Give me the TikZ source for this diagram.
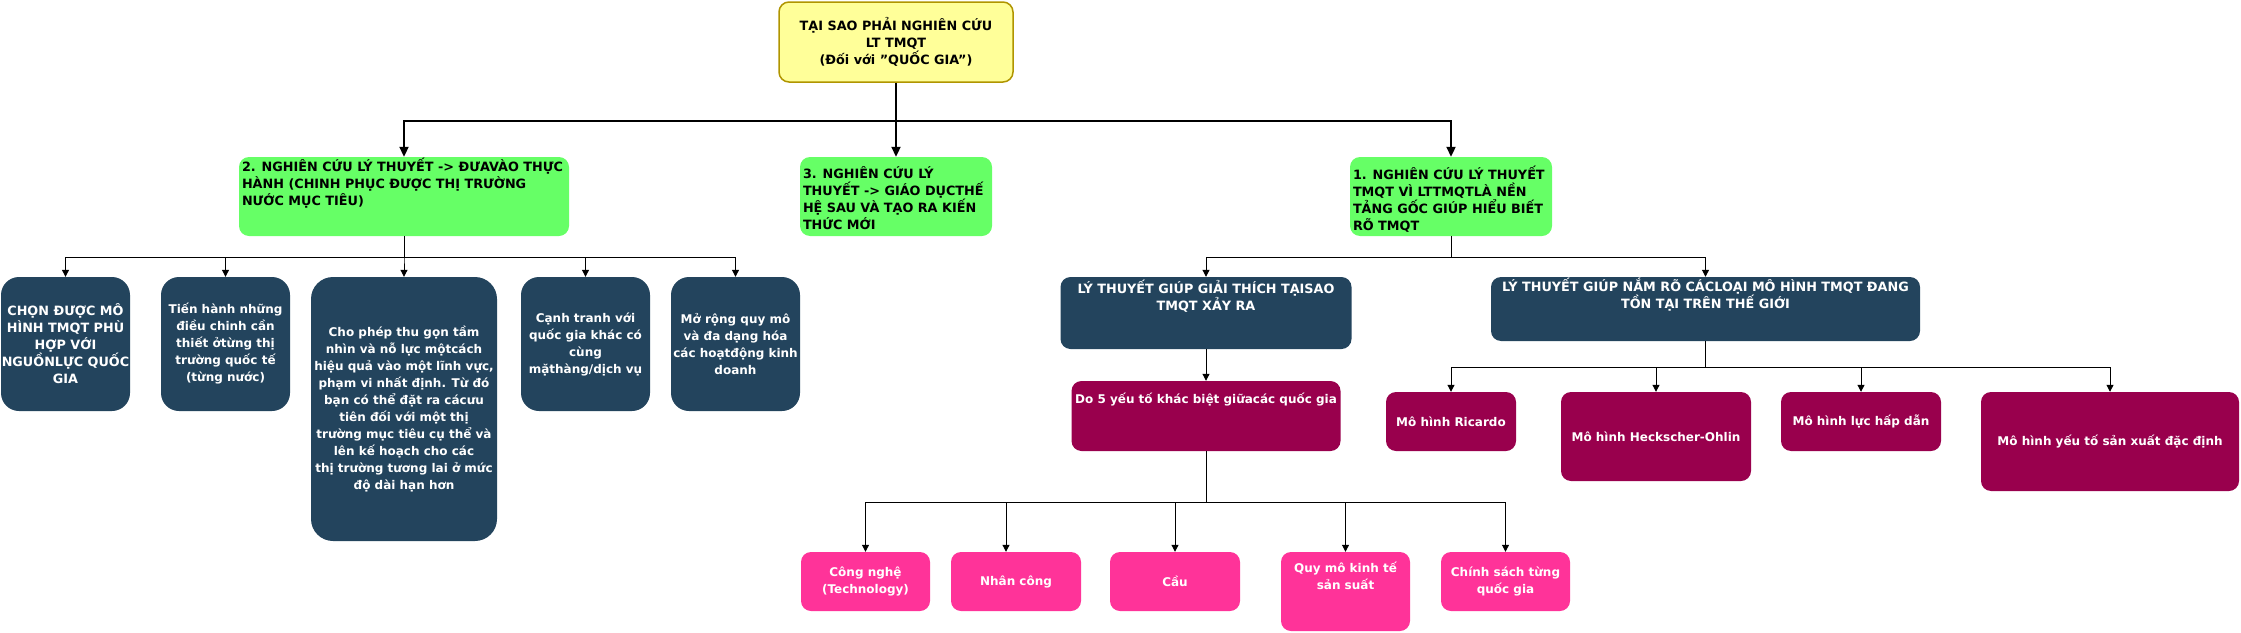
\documentclass[tikz,border=0pt]{standalone}
\usepackage{fontspec}
\setmainfont{DejaVu Sans}
\usetikzlibrary{positioning,arrows.meta}

\definecolor{rootfill}{HTML}{FFFF99}
\definecolor{rootline}{HTML}{B09500}
\definecolor{greenfill}{HTML}{66FF66}
\definecolor{navyfill}{HTML}{23445D}
\definecolor{winefill}{HTML}{99004D}
\definecolor{pinkfill}{HTML}{FF3399}

\tikzset{
  box/.style={inner sep=0pt, align=center, rounded corners=10pt,
    font=\bfseries\fontsize{12}{17}\selectfont},
  capsfont/.style={font=\bfseries\fontsize{12.8}{17}\selectfont},
  rootbox/.style={box, capsfont, fill=rootfill, draw=rootline, line width=1.5pt},
  greenbox/.style={box, fill=greenfill},
  navybox/.style={box, fill=navyfill, text=white},
  winebox/.style={box, fill=winefill, text=white},
  pinkbox/.style={box, fill=pinkfill, text=white},
  txt/.style={inner sep=0pt, font=\bfseries\fontsize{12}{17}\selectfont},
  link/.style={->, line width=1pt},
  biglink/.style={-{Triangle[length=10pt,width=9pt]}, line width=2pt},
}

\begin{document}
\begin{tikzpicture}[x=1pt, y=-1pt, >={Triangle[length=7pt,width=7pt]}]
\useasboundingbox (0,0) rectangle (2241,632);

% gốc
\node[rootbox, minimum width=234, minimum height=80] (root) at (896,42)
  {TẠI SAO PHẢI NGHIÊN CỨU\\LT TMQT\\(Đối với "QUỐC GIA")};

% ba hướng nghiên cứu
\node[greenbox, minimum width=330, minimum height=79] (study2) at (404,196.5) {};
\node[txt, capsfont, align=left, anchor=north west] (study2t) at ([xshift=3pt,yshift=-1pt]study2.north west)
  {2. NGHIÊN CỨU LÝ THUYẾT -> ĐƯAVÀO THỰC\\HÀNH (CHINH PHỤC ĐƯỢC THỊ TRƯỜNG\\NƯỚC MỤC TIÊU)};
\node[greenbox, minimum width=192, minimum height=79] (study3) at (896,196.5) {};
\node[txt, capsfont, align=left, anchor=west] (study3t) at ([xshift=3pt,yshift=-2pt]study3.west)
  {3. NGHIÊN CỨU LÝ\\THUYẾT -> GIÁO DỤCTHẾ\\HỆ SAU VÀ TẠO RA KIẾN\\THỨC MỚI};
\node[greenbox, minimum width=202, minimum height=79] (study1) at (1451,196.5) {};
\node[txt, capsfont, align=left, anchor=west] (study1t) at ([xshift=3pt,yshift=-3pt]study1.west)
  {1. NGHIÊN CỨU LÝ THUYẾT\\TMQT VÌ LTTMQTLÀ NỀN\\TẢNG GỐC GIÚP HIỂU BIẾT\\RÕ TMQT};

\draw[biglink] (root.south) -- ++(0,38) -| (study2.north);
\draw[biglink] (root.south) -- (study3.north);
\draw[biglink] (root.south) -- ++(0,38) -| (study1.north);

% nhánh 2
\node[navybox, capsfont, rounded corners=18pt, minimum width=129, minimum height=134] (pick) at (65.5,344)
  {CHỌN ĐƯỢC MÔ\\HÌNH TMQT PHÙ\\HỢP VỚI\\NGUỒNLỰC QUỐC\\GIA};
\node[navybox, rounded corners=18pt, minimum width=129, minimum height=134] (adjust) at (225.5,344)
  {Tiến hành những\\điều chinh cần\\thiết ởtừng thị\\trường quốc tế\\(từng nước)};
\node[navybox, rounded corners=22pt, minimum width=186, minimum height=264] (focus) at (404,409)
  {Cho phép thu gọn tầm\\nhìn và nỗ lực mộtcách\\hiệu quả vào một lĩnh vực,\\phạm vi nhất định. Từ đó\\bạn có thể đặt ra cácưu\\tiên đối với một thị\\trường mục tiêu cụ thể và\\lên kế hoạch cho các\\thị trường tương lai ở mức\\độ dài hạn hơn};
\node[navybox, rounded corners=18pt, minimum width=129, minimum height=134] (compete) at (585.5,344)
  {Cạnh tranh với\\quốc gia khác có\\cùng\\mặthàng/dịch vụ};
\node[navybox, rounded corners=18pt, minimum width=129, minimum height=134] (expand) at (735.5,344)
  {Mở rộng quy mô\\và đa dạng hóa\\các hoạtđộng kinh\\doanh};

\foreach \n in {pick,adjust,focus,compete,expand}
  \draw[link] (study2.south) -- ++(0,21) -| (\n.north);

% nhánh 1
\node[navybox, minimum width=291, minimum height=72] (why) at (1206,313) {};
\node[txt, capsfont, text=white, align=center, below=3pt of why.north] (whyt)
  {LÝ THUYẾT GIÚP GIẢI THÍCH TẠISAO\\TMQT XẢY RA};
\node[navybox, minimum width=429, minimum height=64] (models) at (1705.5,309) {};
\node[txt, capsfont, text=white, align=center, below=1pt of models.north] (modelst)
  {LÝ THUYẾT GIÚP NẮM RÕ CÁCLOẠI MÔ HÌNH TMQT ĐANG\\TỒN TẠI TRÊN THẾ GIỚI};

\draw[link] (study1.south) -- ++(0,21) -| (why.north);
\draw[link] (study1.south) -- ++(0,21) -| (models.north);

\node[winebox, minimum width=269, minimum height=70] (five) at (1206,416) {};
\node[txt, text=white, below=12pt of five.north] (fivet)
  {Do 5 yếu tố khác biệt giữacác quốc gia};
\draw[link] (why.south) -- (five.north);

% các mô hình
\node[winebox, minimum width=130, minimum height=59] (ricardo) at (1451,421.5) {Mô hình Ricardo};
\node[winebox, minimum width=190, minimum height=89] (hecksher) at (1656,436.5) {Mô hình Heckscher-Ohlin};
\node[winebox, minimum width=160, minimum height=59] (gravity) at (1861,421.5) {Mô hình lực hấp dẫn};
\node[winebox, minimum width=258, minimum height=99] (specific) at (2110,441.5) {Mô hình yếu tố sản xuất đặc định};

\foreach \n in {ricardo,hecksher,gravity,specific}
  \draw[link] (models.south) -- ++(0,26) -| (\n.north);

% 5 yếu tố
\node[pinkbox, minimum width=129, minimum height=59] (tech) at (865.5,581.5) {Công nghệ\\(Technology)};
\node[pinkbox, minimum width=130, minimum height=59] (labor) at (1016,581.5) {Nhân công};
\node[pinkbox, minimum width=130, minimum height=59] (demand) at (1175,581.5) {Cầu};
\node[pinkbox, minimum width=129, minimum height=79] (scale) at (1345.5,591.5) {};
\node[txt, text=white, align=center] (scalet) at (1345.5,576) {Quy mô kinh tế\\sản suất};
\node[pinkbox, minimum width=129, minimum height=59] (policy) at (1505.5,581.5) {Chính sách từng\\quốc gia};

\draw[link] (five.south) -- ++(0,51) -| (tech.north);
\draw[link] (five.south) -- ++(0,51) -| ([xshift=-10pt]labor.north);
\draw[link] (five.south) -- ++(0,51) -| (demand.north);
\draw[link] (five.south) -- ++(0,51) -| (scale.north);
\draw[link] (five.south) -- ++(0,51) -| (policy.north);

\end{tikzpicture}
\end{document}
